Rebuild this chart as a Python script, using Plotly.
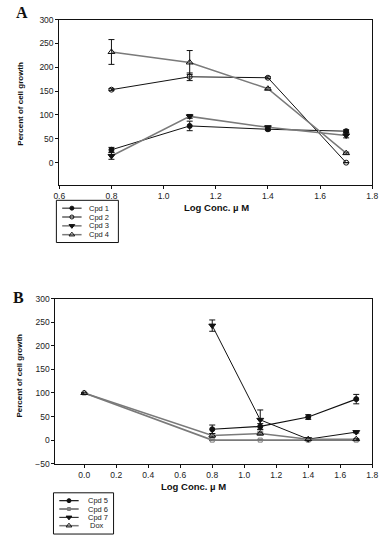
import plotly.graph_objects as go

W, H = 386, 541

# ---------- Data: panel A ----------
conc_a = [0.8, 1.1, 1.4, 1.7]
cpd1 = [27, 77, 70, 66]
cpd1_err = [5, 10, 3, 3]
cpd2 = [153, 180, 178, 0]
cpd2_err = [2, 8, 2, 0]
cpd3 = [14, 97, 74, 57]
cpd3_err = [7, 4, 3, 5]
cpd4 = [232, 210, 155, 20]
cpd4_err = [26, 25, 2, 2]

# ---------- Data: panel B ----------
conc_b = [0.8, 1.1, 1.4, 1.7]
conc_b0 = [0.0, 0.8, 1.1, 1.4, 1.7]
cpd5 = [23, 29, 49, 87]
cpd5_err = [9, 6, 5, 10]
cpd6 = [100, 0, 0, 0, 0]
cpd6_err = [0, 0, 0, 0, 0]
cpd7 = [243, 43, 2, 17]
cpd7_err = [12, 21, 1, 2]
dox = [100, 10, 14, 2, 2]
dox_err = [0, 4, 3, 1, 1]

y_ticks = [0, 50, 100, 150, 200, 250, 300]
y_ticks_b = [-50, 0, 50, 100, 150, 200, 250, 300]
x_ticks_a = [0.6, 0.8, 1.0, 1.2, 1.4, 1.6, 1.8]
x_ticks_b = [0.0, 0.2, 0.4, 0.6, 0.8, 1.0, 1.2, 1.4, 1.6, 1.8]

BLACK = "#111111"
GRAY = "#7a7a7a"
FONT = "Liberation Sans, Arial"
CLEAR = "rgba(0,0,0,0)"


def px_x(p):
    return p / W


def px_y(p):
    return 1 - p / H


fig = go.Figure()

styles = {}


def add(x, y, err, name, lc, lw, sym, mc, ms, xa, ya):
    styles[name] = (lc, lw, sym, mc, ms)
    fig.add_trace(go.Scatter(
        x=x, y=y, name=name, mode="lines+markers", showlegend=False,
        line=dict(color=lc, width=lw),
        marker=dict(symbol=sym, color=mc, size=ms, line=dict(color=BLACK, width=1)),
        error_y=dict(type="data", array=err, visible=True, color=BLACK, thickness=1, width=3),
        xaxis=xa, yaxis=ya,
    ))


add(conc_a, cpd1, cpd1_err, "Cpd 1", BLACK, 1, "circle", BLACK, 5, "x", "y")
add(conc_a, cpd2, cpd2_err, "Cpd 2", BLACK, 1, "circle-open", BLACK, 5, "x", "y")
add(conc_a, cpd3, cpd3_err, "Cpd 3", GRAY, 1.5, "triangle-down", BLACK, 6, "x", "y")
add(conc_a, cpd4, cpd4_err, "Cpd 4", GRAY, 1.5, "triangle-up-open", BLACK, 6, "x", "y")

add(conc_b, cpd5, cpd5_err, "Cpd 5", BLACK, 1.2, "circle", BLACK, 5, "x2", "y2")
add(conc_b0, cpd6, cpd6_err, "Cpd 6", GRAY, 1.8, "square-open", GRAY, 4, "x2", "y2")
add(conc_b, cpd7, cpd7_err, "Cpd 7", BLACK, 1, "triangle-down", BLACK, 6, "x2", "y2")
add(conc_b0, dox, dox_err, "Dox", GRAY, 1.5, "triangle-up-open", BLACK, 6, "x2", "y2")

# ---------- compact legend boxes (drawn on a hidden pixel-space overlay axis) ----------
legend_boxes = [
    # (names, box x0, x1, y0, y1, sample x0, x1, text x, entry y positions)
    (["Cpd 1", "Cpd 2", "Cpd 3", "Cpd 4"], 52, 116, 199, 242, 58, 78, 84, [207, 216, 225, 234]),
    (["Cpd 5", "Cpd 6", "Cpd 7", "Dox"], 49, 111, 497, 539, 55, 75, 83, [505, 513.5, 522, 530.5]),
]
shapes = []
annos = []
for names, bx0, bx1, by0, by1, sx0, sx1, tx, ys in legend_boxes:
    shapes.append(dict(type="rect", xref="x3", yref="y3", x0=bx0, x1=bx1, y0=by0, y1=by1,
                       line=dict(color=BLACK, width=1), fillcolor="white", layer="below"))
    for nm, yy in zip(names, ys):
        lc, lw, sym, mc, ms = styles[nm]
        fig.add_trace(go.Scatter(
            x=[sx0, (sx0 + sx1) / 2, sx1], y=[yy, yy, yy], mode="lines",
            line=dict(color=lc, width=lw), showlegend=False, hoverinfo="skip",
            xaxis="x3", yaxis="y3"))
        fig.add_trace(go.Scatter(
            x=[(sx0 + sx1) / 2], y=[yy], mode="markers",
            marker=dict(symbol=sym, color=mc, size=ms - 1, line=dict(color=BLACK, width=1)),
            showlegend=False, hoverinfo="skip", xaxis="x3", yaxis="y3"))
        annos.append(dict(text=nm, x=tx + (2 if nm == "Dox" else 0), y=yy, xref="x3", yref="y3",
                          xanchor="left", yanchor="middle", showarrow=False,
                          font=dict(family=FONT, size=7.5, color="#222222")))

tickfont = dict(family=FONT, size=8.5, color="#222222")
axis_common = dict(showgrid=False, zeroline=False, showline=True, linecolor=BLACK,
                   linewidth=1, mirror=True, ticks="outside", ticklen=3,
                   tickcolor=BLACK, tickfont=tickfont, ticklabeloverflow="allow")

fig.update_layout(
    width=W, height=H,
    margin=dict(l=0, r=0, t=0, b=0),
    paper_bgcolor="white", plot_bgcolor=CLEAR,
    showlegend=False,
    xaxis=dict(domain=[px_x(55), px_x(378)], range=[0.6, 1.8], tickvals=x_ticks_a,
               ticktext=[f"{v:.1f}" for v in x_ticks_a], anchor="y", **axis_common),
    yaxis=dict(domain=[px_y(183), px_y(14.8)], range=[-46, 300], tickvals=y_ticks,
               anchor="x", **axis_common),
    xaxis2=dict(domain=[px_x(51), px_x(378)], range=[-0.18, 1.8], tickvals=x_ticks_b,
                ticktext=[f"{v:.1f}" for v in x_ticks_b], anchor="y2", **axis_common),
    yaxis2=dict(domain=[px_y(467.3), px_y(299.3)], range=[-50, 300], tickvals=y_ticks_b,
                anchor="x2", **axis_common),
    xaxis3=dict(domain=[0, 1], range=[0, W], visible=False, fixedrange=True, anchor="y3"),
    yaxis3=dict(domain=[0, 1], range=[H, 0], visible=False, fixedrange=True, anchor="x3"),
    shapes=shapes,
)

title_font = dict(family=FONT, size=9.5, color=BLACK)
ytitle_font = dict(family=FONT, size=8, color=BLACK)
annos += [
    dict(text="<b>A</b>", x=px_x(8), y=px_y(8), xanchor="left", yanchor="middle",
         font=dict(family="Liberation Serif, Times New Roman", size=16, color=BLACK)),
    dict(text="<b>B</b>", x=px_x(5), y=px_y(298), xanchor="left", yanchor="middle",
         font=dict(family="Liberation Serif, Times New Roman", size=16, color=BLACK)),
    dict(text="<b>Log Conc. µ M</b>", x=px_x(217), y=px_y(206), xanchor="center",
         yanchor="middle", font=title_font),
    dict(text="<b>Log Conc. µ M</b>", x=px_x(194), y=px_y(491), xanchor="center",
         yanchor="middle", font=title_font),
    dict(text="<b>Percent of cell growth</b>", x=px_x(15), y=px_y(101), textangle=-90,
         xanchor="center", yanchor="middle", font=ytitle_font),
    dict(text="<b>Percent of cell growth</b>", x=px_x(13), y=px_y(378), textangle=-90,
         xanchor="center", yanchor="middle", font=ytitle_font),
]
for a in annos:
    if "xref" not in a:
        a.update(xref="paper", yref="paper", showarrow=False)
fig.update_layout(annotations=annos)

fig.write_html("out.html", config={"displayModeBar": False, "staticPlot": True},
               post_script="document.body.style.margin='0';document.body.style.padding='0';")
